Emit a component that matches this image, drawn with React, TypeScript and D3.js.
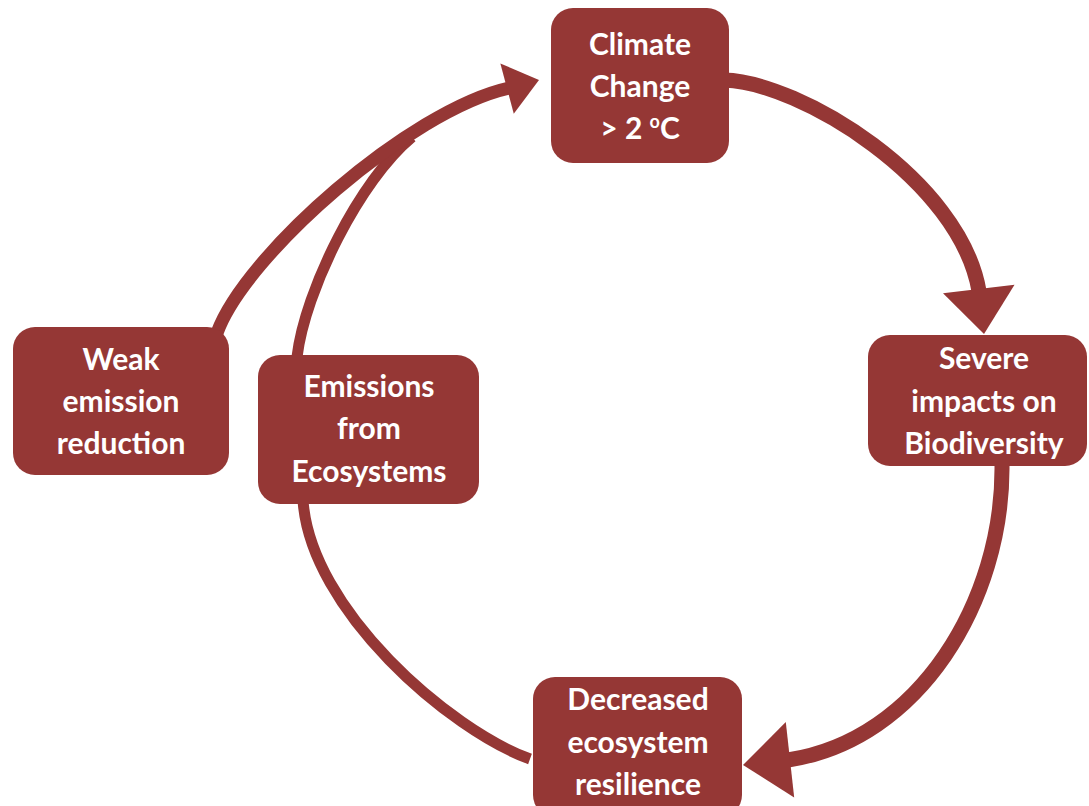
import React, { useEffect } from "react";
import * as d3 from "d3";

// ---- data ----
const nodeIds = ["climate", "severe", "decreased", "emissions", "weak"];
const nodeLabels: string[][] = [
  ["Climate", "Change", "> 2 |o|C"],
  ["Severe", "impacts on", "Biodiversity"],
  ["Decreased", "ecosystem", "resilience"],
  ["Emissions", "from", "Ecosystems"],
  ["Weak", "emission", "reduction"],
];
const linkFrom = ["climate", "severe", "decreased", "emissions", "weak"];
const linkTo = ["severe", "decreased", "emissions", "climate", "climate"];

// ---- layout (positions / sizes) ----
const boxRects: [number, number, number, number][] = [
  [551, 8, 178, 155],
  [868, 335, 219, 131],
  [533, 677, 209, 140],
  [258, 355, 221, 149],
  [13, 327, 216, 148],
];
const textCenterX = [640, 984, 638, 369, 121];
const textBaselines = [
  [55, 97, 139],
  [369, 412, 454],
  [710, 753, 795],
  [397, 439, 482],
  [370, 412, 454],
];
// cubic bezier: start, control1, control2, end
const linkCurves: [number, number][][] = [
  [[724, 80], [800, 82], [960, 180], [979, 291]],
  [[1002, 466], [1003, 600], [920, 740], [788, 760]],
  [[530, 759], [450, 730], [310, 610], [303, 500]],
  [[297, 357], [305, 290], [360, 180], [412, 137]],
  [[217, 333], [245, 255], [410, 110], [509, 88]],
];
const linkWidths = [15, 15, 11, 11, 13];
const arrowTips: ([number, number] | null)[] = [[984, 334], [743, 765], null, null, [539, 80]];
const arrowWidths = [72, 76, 0, 0, 52];

const COLOR = "#953735";

export default function App() {
  useEffect(() => {
    document.body.style.margin = "0";
  }, []);

  const curvePath = (c: [number, number][]) => {
    const p = d3.path();
    p.moveTo(c[0][0], c[0][1]);
    p.bezierCurveTo(c[1][0], c[1][1], c[2][0], c[2][1], c[3][0], c[3][1]);
    return p.toString();
  };

  const heads = arrowTips.map((tip, i) => {
    if (!tip) return null;
    const pts = linkCurves[i];
    const base = pts[pts.length - 1];
    const dx = tip[0] - base[0];
    const dy = tip[1] - base[1];
    const len = Math.hypot(dx, dy);
    const nx = -dy / len;
    const ny = dx / len;
    const w = arrowWidths[i] / 2;
    const back: [number, number] = [base[0] - (dx / len) * 2, base[1] - (dy / len) * 2];
    const p1: [number, number] = [back[0] + nx * w, back[1] + ny * w];
    const p2: [number, number] = [back[0] - nx * w, back[1] - ny * w];
    return d3.line()([tip, p1, p2]) + "Z";
  });

  return (
    <svg width={1089} height={806} style={{ display: "block", background: "#fff" }}>
      <g>
        {linkCurves.map((c, i) => (
          <path
            key={`${linkFrom[i]}-${linkTo[i]}`}
            d={curvePath(c)}
            fill="none"
            stroke={COLOR}
            strokeWidth={linkWidths[i]}
          />
        ))}
        {heads.map((d, i) => (d ? <path key={`h${i}`} d={d} fill={COLOR} /> : null))}
      </g>
      <g>
        {nodeIds.map((id, i) => {
          const [x, y, w, h] = boxRects[i];
          return (
            <g key={id}>
              <rect x={x} y={y} width={w} height={h} rx={22} ry={22} fill={COLOR} />
              {nodeLabels[i].map((lab, j) => {
                const parts = lab.split("|");
                return (
                  <text
                    key={j}
                    x={textCenterX[i]}
                    y={textBaselines[i][j]}
                    textAnchor="middle"
                    fill="#fff"
                    fontFamily="Lato, 'Open Sans', sans-serif"
                    fontWeight={700}
                    fontSize={30}
                  >
                    {parts.length === 1 ? (
                      lab
                    ) : (
                      <>
                        <tspan>{parts[0]}</tspan>
                        <tspan fontSize={18} dy={-11}>{parts[1]}</tspan>
                        <tspan dy={11}>{parts[2]}</tspan>
                      </>
                    )}
                  </text>
                );
              })}
            </g>
          );
        })}
      </g>
    </svg>
  );
}
